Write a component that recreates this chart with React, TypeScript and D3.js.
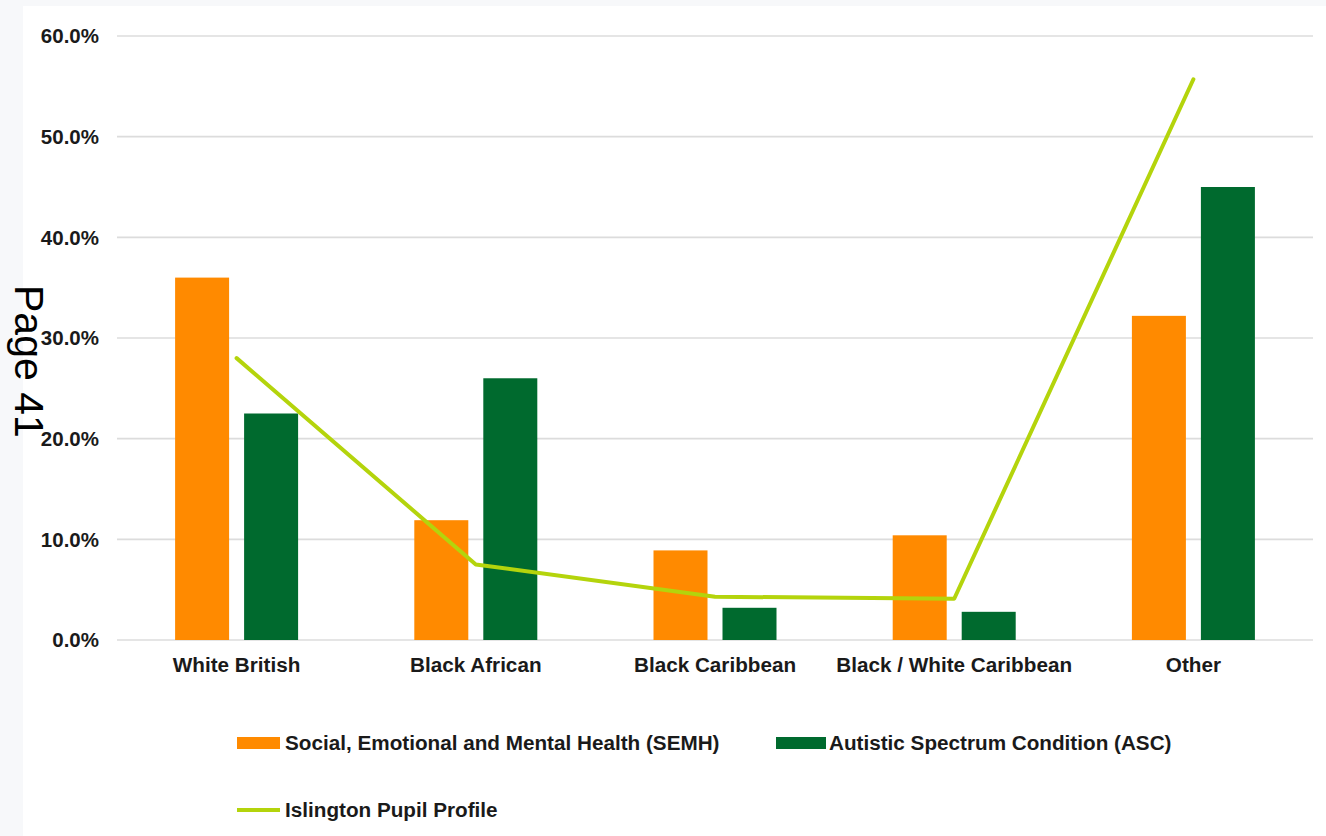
import React from "react";
import * as d3 from "d3";

const categories = ["White British", "Black African", "Black Caribbean", "Black / White Caribbean", "Other"];
const semh = [0.360, 0.119, 0.089, 0.104, 0.322];
const asc = [0.225, 0.260, 0.032, 0.028, 0.450];
const profile = [0.280, 0.075, 0.043, 0.041, 0.557];
const yTicks = [0, 0.1, 0.2, 0.3, 0.4, 0.5, 0.6];
const seriesNames = ["Social, Emotional and Mental Health (SEMH)", "Autistic Spectrum Condition (ASC)", "Islington Pupil Profile"];

const W = 1326;
const H = 836;
const ORANGE = "#ff8a00";
const GREEN = "#006a2e";
const LIME = "#b4d40c";
const FONT = "'Liberation Sans', Arial, Helvetica, sans-serif";

export default function App() {
  const x = d3.scaleBand<string>().domain(categories).range([117, 1313]).padding(0);
  const y = d3.scaleLinear().domain([0, 0.6]).range([640, 36]);
  const inner = d3.scaleBand<string>().domain(["semh", "asc"]).range([-61.5, 61.5]).paddingInner(0.2174).paddingOuter(0);
  const cx = (c: string) => (x(c) as number) + x.bandwidth() / 2;
  const line = d3
    .line<number>()
    .x((_, i) => cx(categories[i]))
    .y((d) => y(d));
  const fmt = d3.format(".1%");

  return (
    <svg width={W} height={H} style={{ position: "absolute", left: 0, top: 0 }} xmlns="http://www.w3.org/2000/svg">
      <rect x={0} y={0} width={W} height={H} fill="#f7f8fa" />
      <rect x={23} y={6} width={W - 23} height={H - 6} fill="#ffffff" />
      {yTicks.map((t) => (
        <g key={t}>
          <line x1={117} x2={1313} y1={y(t)} y2={y(t)} stroke="#dcdcdc" strokeWidth={1.6} />
          <text x={99} y={y(t)} dy="0.35em" textAnchor="end" fontFamily={FONT} fontWeight="bold" fontSize={20.5} fill="#1a1a1a">
            {fmt(t)}
          </text>
        </g>
      ))}
      {categories.map((c, i) => (
        <g key={c}>
          <rect x={cx(c) + (inner("semh") as number)} y={y(semh[i])} width={inner.bandwidth()} height={y(0) - y(semh[i])} fill={ORANGE} />
          <rect x={cx(c) + (inner("asc") as number)} y={y(asc[i])} width={inner.bandwidth()} height={y(0) - y(asc[i])} fill={GREEN} />
          <text x={cx(c)} y={672} textAnchor="middle" fontFamily={FONT} fontWeight="bold" fontSize={20.7} fill="#1a1a1a">
            {c}
          </text>
        </g>
      ))}
      <path d={line(profile) || ""} fill="none" stroke={LIME} strokeWidth={4} strokeLinejoin="round" strokeLinecap="round" />
      <g fontFamily={FONT} fontWeight="bold" fontSize={20.7} fill="#1a1a1a">
        <rect x={237} y={737} width={43} height={12} fill={ORANGE} />
        <text x={285} y={743} dy="0.35em">{seriesNames[0]}</text>
        <rect x={776} y={737} width={50} height={12} fill={GREEN} />
        <text x={829} y={743} dy="0.35em">{seriesNames[1]}</text>
        <line x1={237} x2={280} y1={810} y2={810} stroke={LIME} strokeWidth={4} />
        <text x={285} y={810} dy="0.35em">{seriesNames[2]}</text>
      </g>
      <text transform="translate(15,285) rotate(90)" fontFamily={FONT} fontSize={41} fill="#000000">
        Page 41
      </text>
    </svg>
  );
}
